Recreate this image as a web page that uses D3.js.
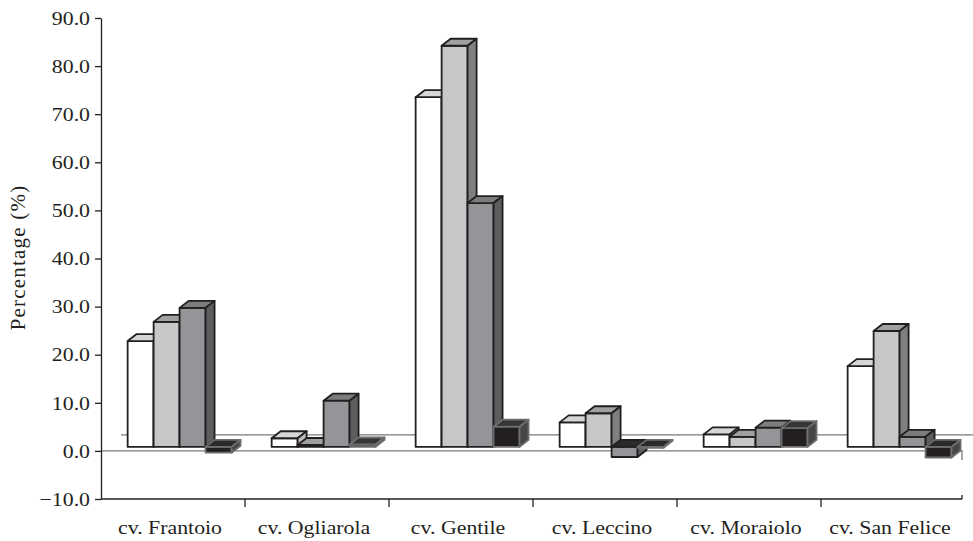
<!DOCTYPE html>
<html>
<head>
<meta charset="utf-8">
<script src="https://cdn.jsdelivr.net/npm/d3@7"></script>
<style>
  body { margin: 0; background: #fff; }
  text { font-family: "Liberation Serif", "Times New Roman", serif; fill: #231f20; }
</style>
</head>
<body>
<div class="chart"></div>
<script>
const categories = ["cv. Frantoio", "cv. Ogliarola", "cv. Gentile", "cv. Leccino", "cv. Moraiolo", "cv. San Felice"]
const series1 = [22.0, 1.8, 72.7, 5.1, 2.6, 16.8]
const series2 = [26.0, 0.4, 83.4, 7.0, 2.1, 24.1]
const series3 = [28.9, 9.6, 50.7, -2.1, 4.0, 2.1]
const series4 = [-1.2, 0.5, 4.2, -0.2, 3.9, -2.2]
const yTicks = [-10, 0, 10, 20, 30, 40, 50, 60, 70, 80, 90]

const chart_param = {
    width: 973,
    height: 541,
    left: 101,
    right: 965,
    top: 18,
    bottom: 499
}

// face colours per series: front, top, side, edge
const looks = [
    {front: "#ffffff", top: "#d6d6d6", side: "#bdbdbd", edge: "#231f20"},
    {front: "#c6c7c8", top: "#a0a0a0", side: "#7f7f7f", edge: "#231f20"},
    {front: "#949598", top: "#7c7c7c", side: "#5d5d5d", edge: "#231f20"},
    {front: "#231f20", top: "#363636", side: "#464646", edge: "#6d6e70"}
]
const allSeries = [series1, series2, series3, series4]

// 3D depth of the bars and where they sit inside the floor
const depth = {dx: 9, dy: -7}
const shift = {dx: 6.6, dy: -4}
const floorBack = {dx: 20, dy: -16}
const stretch = 1.12   // the source text is a bit wider than plain Times

const y = d3.scaleLinear()
            .domain([-10, 90])
            .range([chart_param.bottom, chart_param.top])
const x0 = d3.scaleBand()
            .domain(categories)
            .range([chart_param.left, chart_param.right])
const x1 = d3.scaleBand()
            .domain(d3.range(4))
            .range([0, x0.bandwidth()])
            .paddingInner(0)
            .paddingOuter(0.772)

const svg = d3.select(".chart").append("svg")
    .attr("width", chart_param.width)
    .attr("height", chart_param.height)

// floor lines at zero
svg.append("line")
    .attr("x1", chart_param.left + floorBack.dx).attr("x2", chart_param.width)
    .attr("y1", y(0) + floorBack.dy).attr("y2", y(0) + floorBack.dy)
    .style("stroke", "#7a7a7a").style("stroke-width", 1.3)
svg.append("polyline")
    .attr("points", [[chart_param.left, y(0)], [chart_param.right - 3, y(0)], [chart_param.right - 3, y(0) + 9]].join(" "))
    .style("fill", "none").style("stroke", "#7a7a7a").style("stroke-width", 1.3)

const poly = pts => pts.map(p => p.join(",")).join(" ")

let draw_bar = (g, left, w, v, look) => {
    const base = y(0) + shift.dy
    const topY = y(v) + shift.dy
    const right = left + w
    const hi = Math.min(base, topY), lo = Math.max(base, topY)
    const faces = [
        // front
        {pts: [[left, hi], [right, hi], [right, lo], [left, lo]], fill: look.front},
        // top (the zero face for negative bars)
        {pts: [[left, hi], [left + depth.dx, hi + depth.dy], [right + depth.dx, hi + depth.dy], [right, hi]],
            fill: v < 0 ? "#2a2a2a" : look.top},
        // side
        {pts: [[right, hi], [right + depth.dx, hi + depth.dy], [right + depth.dx, lo + depth.dy], [right, lo]], fill: look.side}
    ]
    g.selectAll(null).data(faces).enter()
        .append("polygon")
        .attr("points", d => poly(d.pts))
        .style("fill", d => d.fill)
        .style("stroke", look.edge)
        .style("stroke-width", 1.8)
        .style("stroke-linejoin", "round")
}

const bars = svg.append("g")
categories.forEach((c, ci) => {
    allSeries.forEach((s, si) => {
        draw_bar(bars, x0(c) + x1(si) + shift.dx, x1.bandwidth(), s[ci], looks[si])
    })
})

// value axis
const yAxis = svg.append("g")
    .attr("transform", `translate(${chart_param.left},0)`)
    .call(d3.axisLeft(y).tickValues(yTicks).tickFormat(d3.format(".1f")).tickSize(6).tickSizeOuter(0))
yAxis.select(".domain").style("stroke", "#231f20").style("stroke-width", 1.3)
yAxis.selectAll(".tick line").style("stroke", "#231f20").style("stroke-width", 1.3)
yAxis.selectAll(".tick text")
    .attr("x", 0)
    .attr("transform", `translate(-11,0) scale(${stretch},1)`)
    .style("font-size", "19.5px")
    .style("font-family", "Liberation Serif, serif")
    .style("fill", "#231f20")

svg.append("text")
    .attr("transform", `translate(25,${(chart_param.top + chart_param.bottom) / 2 - 1}) rotate(-90)`)
    .attr("text-anchor", "middle")
    .style("font-size", "21px")
    .style("letter-spacing", "1.2px")
    .text("Percentage (%)")

// category axis along the bottom
svg.append("line")
    .attr("x1", chart_param.left).attr("x2", chart_param.right - 3)
    .attr("y1", y(-10)).attr("y2", y(-10))
    .style("stroke", "#231f20").style("stroke-width", 1.3)
svg.selectAll(".cat-tick")
    .data(categories.slice(1)).enter()
    .append("line")
    .classed("cat-tick", true)
    .attr("x1", d => x0(d)).attr("x2", d => x0(d))
    .attr("y1", y(-10)).attr("y2", y(-10) + 8)
    .style("stroke", "#231f20").style("stroke-width", 1.3)
svg.append("line")
    .attr("x1", chart_param.right - 3).attr("x2", chart_param.right - 3)
    .attr("y1", y(-10) - 4).attr("y2", y(-10))
    .style("stroke", "#231f20").style("stroke-width", 1.3)
svg.selectAll(".cat-label")
    .data(categories).enter()
    .append("text")
    .classed("cat-label", true)
    .attr("transform", d => `translate(${x0(d) + x0.bandwidth() / 2 - 3},534) scale(${stretch},1)`)
    .attr("text-anchor", "middle")
    .style("font-size", "19.5px")
    .text(d => d)
</script>
</body>
</html>
